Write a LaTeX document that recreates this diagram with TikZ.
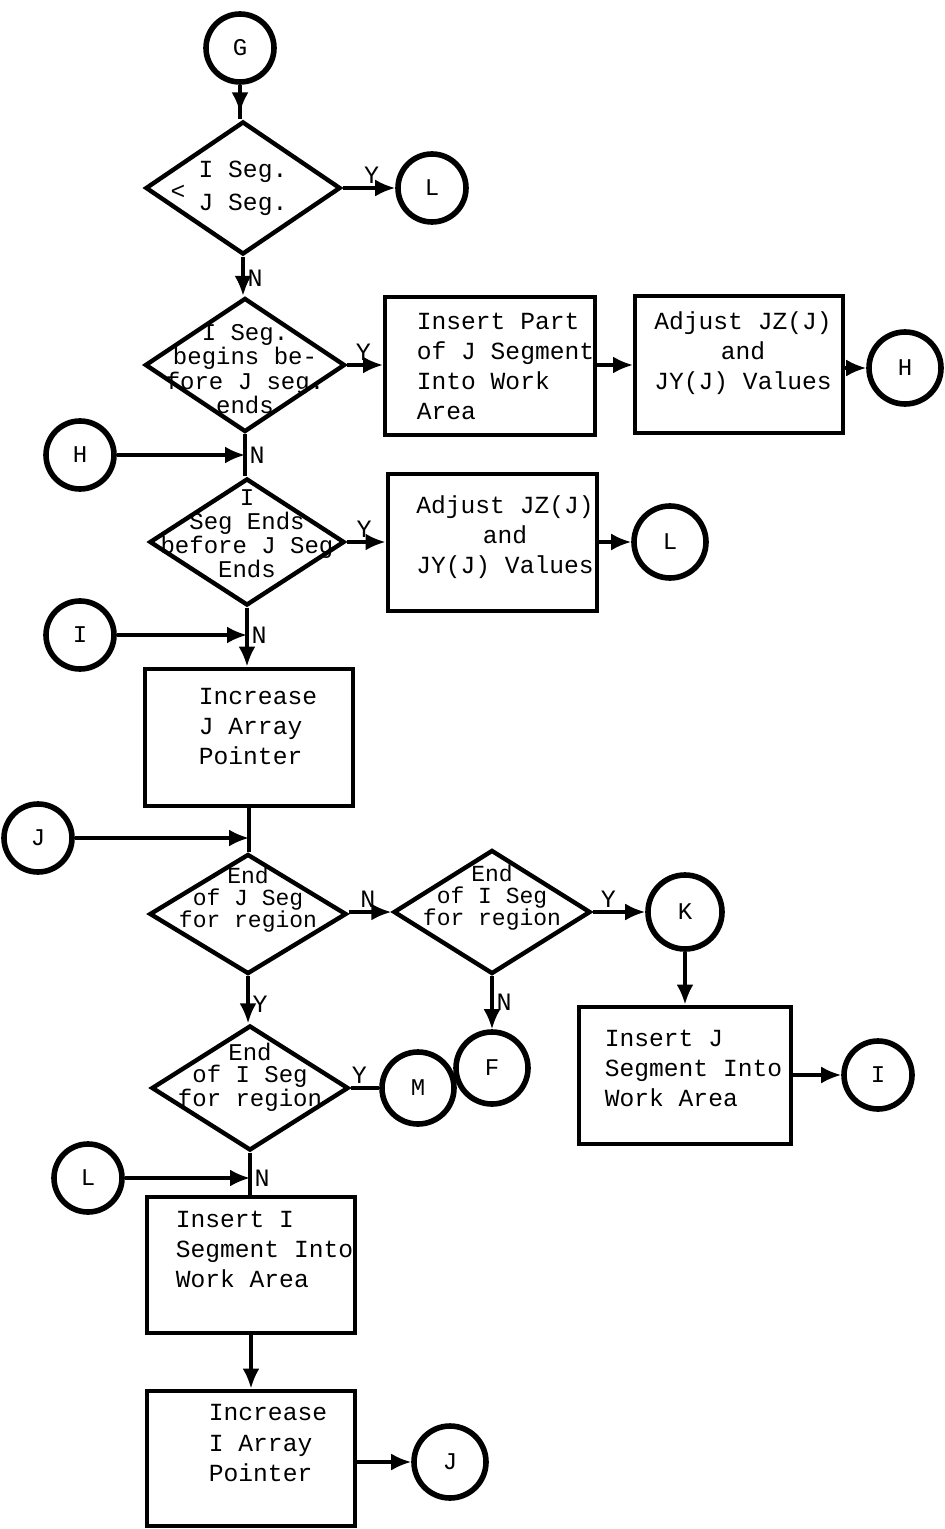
\documentclass[tikz,border=0pt]{standalone}
\usepackage{fontspec}
\newfontfamily\typewriter{Liberation Mono}
\usetikzlibrary{shapes.geometric,arrows.meta,decorations.markings}

\tikzset{
  proc/.style={draw, rectangle, line width=2pt, inner sep=0pt, minimum width=104pt, minimum height=68.5pt},
  decision/.style={draw, diamond, line width=2.2pt, inner sep=0pt, minimum width=98pt},
  connector/.style={draw, circle, line width=2.8pt, minimum size=34pt, inner sep=0pt, font=\typewriter\fontsize{12}{14}\selectfont},
  txt/.style={font=\typewriter\fontsize{12.3}{15}\selectfont, inner sep=0pt},
  yn/.style={font=\typewriter\fontsize{12.5}{14}\selectfont, inner sep=1.5pt},
  link/.style={line width=1.6pt},
  flow/.style={link, -{Latex[length=10pt,width=8.5pt]}},
  midarrow/.style={link, postaction={decorate},
    decoration={markings, mark=at position #1 with {\arrow{Latex[length=10pt,width=8.5pt]}}}},
}

\begin{document}
\begin{tikzpicture}[x=0.5pt, y=-0.5pt]
    \useasboundingbox (0,0) rectangle (944,1529);

    % Entry and first test
    \node[connector] (G) at (240,48) {G};
    \node[decision, minimum width=97.5pt, minimum height=66.5pt,
      label={[txt, align=left]center:{I Seg.\\[1.5pt]J Seg.}}] (d1) at (243,188) {};
    \node[txt] (lt) at (178,192) {<};
    \node[connector] (L1) at (432,188) {L};

    % Begins before
    \node[decision, minimum width=100pt, minimum height=67pt,
      label={[txt, font=\typewriter\fontsize{12}{10.5}\selectfont, align=center, yshift=-2pt]center:{I Seg.\\begins be-\\fore J seg.\\ends}}] (d2) at (245,365) {};
    \node[proc, minimum width=105pt, minimum height=69pt,
      label={[txt, align=left, xshift=7.75pt]center:{Insert Part\\of J Segment\\Into Work\\Area}}] (b1) at (490,366) {};
    \node[proc, label={[txt, align=center, xshift=2pt, yshift=6pt]center:{Adjust JZ(J)\\and\\JY(J) Values}}] (b2) at (739,365) {};
    \node[connector, minimum size=36pt] (H1) at (905,368) {H};

    % Ends before
    \node[connector] (H2) at (80,455) {H};
    \node[decision, minimum width=97.5pt, minimum height=63.5pt,
      label={[txt, font=\typewriter\fontsize{12}{12}\selectfont, align=center, yshift=4pt]center:{I\\Seg Ends\\before J Seg\\Ends}}] (d3) at (247,542) {};
    \node[proc, minimum width=104.5pt,
      label={[txt, align=center, xshift=6.5pt, yshift=2.5pt]center:{Adjust JZ(J)\\and\\JY(J) Values}}] (b3) at (492,542) {};
    \node[connector, minimum size=36pt] (L2) at (670,542) {L};

    % J pointer
    \node[connector] (I1) at (80,635) {I};
    \node[proc, label={[txt, align=left, xshift=4.5pt, yshift=5pt]center:{Increase\\J Array\\Pointer}}] (b4) at (249,737) {};

    % End of segments
    \node[connector] (J1) at (38,838) {J};
    \node[decision, minimum width=98.5pt, minimum height=60pt,
      label={[txt, font=\typewriter\fontsize{11.5}{11}\selectfont, align=center, yshift=7pt]center:{End\\of J Seg\\for region}}] (d4) at (248,914) {};
    \node[decision, minimum width=98.5pt, minimum height=62pt,
      label={[txt, font=\typewriter\fontsize{11.5}{11}\selectfont, align=center, yshift=7pt]center:{End\\of I Seg\\for region}}] (d5) at (492,912) {};
    \node[connector, minimum size=37pt] (K) at (685,912) {K};
    \node[proc, minimum width=106pt,
      label={[txt, align=left, xshift=4.25pt, yshift=3.5pt]center:{Insert J\\Segment Into\\Work Area}}] (b5) at (685,1075) {};
    \node[connector] (I2) at (878,1075) {I};
    \node[connector, minimum size=36pt] (F) at (492,1068) {F};

    \node[decision, minimum width=98.5pt, minimum height=62.5pt,
      label={[txt, font=\typewriter\fontsize{12}{11}\selectfont, align=center, yshift=5.5pt]center:{End\\of I Seg\\for region}}] (d6) at (250,1088) {};
    \node[connector, minimum size=36pt] (M) at (418,1088) {M};

    % I pointer
    \node[connector] (L3) at (88,1178) {L};
    \node[proc, minimum height=68pt,
      label={[txt, align=left, xshift=6.75pt, yshift=8pt]center:{Insert I\\Segment Into\\Work Area}}] (b6) at (251,1265) {};
    \node[proc, minimum height=67.5pt,
      label={[txt, align=left, xshift=8.5pt, yshift=7.5pt]center:{Increase\\I Array\\Pointer}}] (b7) at (251,1458) {};
    \node[connector, minimum size=36pt] (J2) at (450,1462) {J};

    % Connectors
    \draw[midarrow=0.8] (G) -- (G |- d1.north);
    \draw[flow] (d1.east) -- node[yn, above, pos=0.55] {Y} (L1);
    \draw[flow] (d1.south) -- node[yn, right, pos=0.55] {N} (d1.south |- d2.north);
    \draw[flow] (d2.east) -- node[yn, above, pos=0.45] {Y} (b1.west |- d2.east);
    \draw[flow] (b1.east |- b2.west) -- (b2.west);
    \draw[flow] (b2.east |- H1) -- (H1);
    \draw[link] (d2.south) -- (d2.south |- d3.north);
    \draw[flow] (H2) -- (H2 -| d2.south) node[yn, right] {N};
    \draw[flow] (d3.east) -- node[yn, above, pos=0.45] {Y} (b3.west);
    \draw[flow] (b3.east) -- (L2);
    \draw[flow] (d3.south) -- (d3.south |- b4.north);
    \draw[flow] (I1) -- (I1 -| d3.south) node[yn, right] {N};
    \draw[link] (b4.south) -- (b4.south |- d4.north);
    \draw[flow] (J1) -- (J1 -| b4.south);
    \draw[flow] (d4.east |- d5.west) -- node[yn, above, pos=0.45] {N} (d5.west);
    \draw[flow] (d5.east) -- node[yn, above, pos=0.3] {Y} (K);
    \draw[flow] (K) -- (b5.north);
    \draw[flow] (b5.east) -- (I2);
    \draw[flow] (d5.south) -- node[yn, right, pos=0.5] {N} (F);
    \draw[flow] (d4.south) -- node[yn, right, pos=0.6] {Y} (d4.south |- d6.north);
    \draw[link] (d6.east) -- node[yn, above, pos=0.3] {Y} (M);
    \draw[link] (d6.south) -- (d6.south |- b6.north);
    \draw[flow] (L3) -- (L3 -| d6.south) node[yn, right] {N};
    \draw[flow] (b6.south) -- (b7.north);
    \draw[flow] (b7.east |- J2) -- (J2);
\end{tikzpicture}
\end{document}
